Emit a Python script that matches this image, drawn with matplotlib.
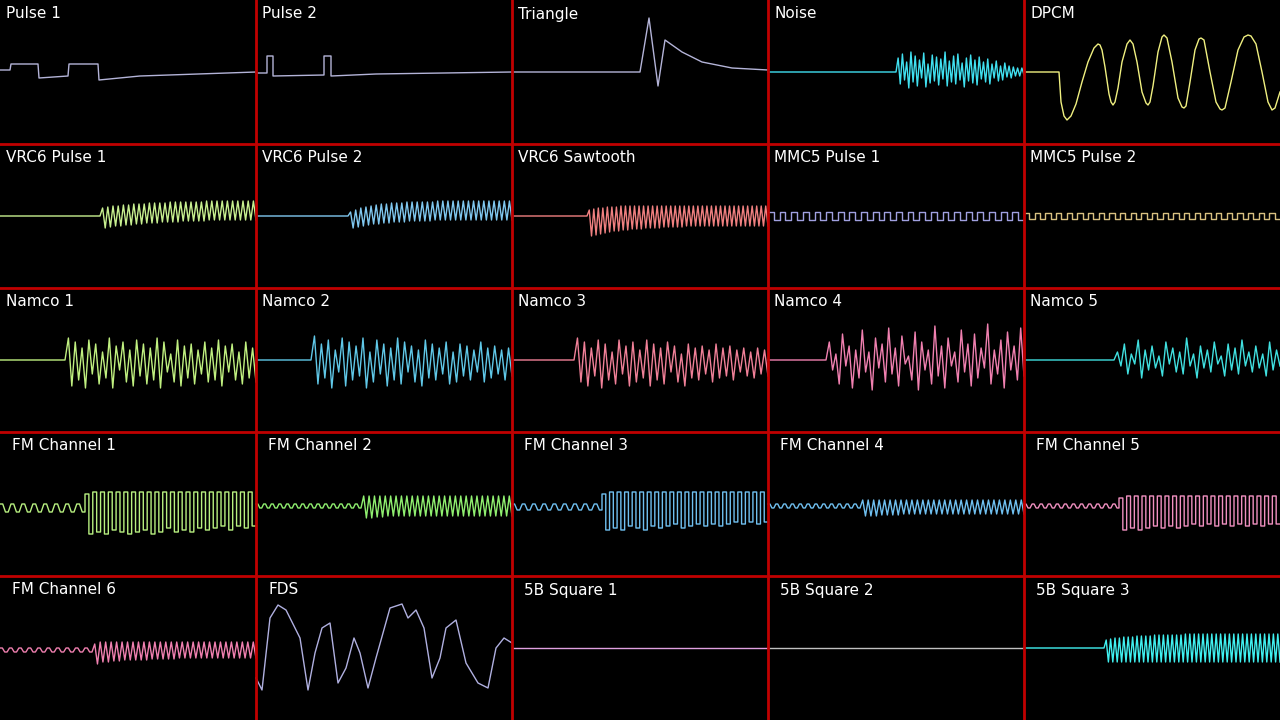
import numpy as np
import matplotlib
matplotlib.use("Agg")
import matplotlib.pyplot as plt

# panel size in pixels, 5 x 5 grid
PW, PH = 256, 144

titles = [
    "Pulse 1", "Pulse 2", "Triangle", "Noise", "DPCM",
    "VRC6 Pulse 1", "VRC6 Pulse 2", "VRC6 Sawtooth", "MMC5 Pulse 1", "MMC5 Pulse 2",
    "Namco 1", "Namco 2", "Namco 3", "Namco 4", "Namco 5",
    "FM Channel 1", "FM Channel 2", "FM Channel 3", "FM Channel 4", "FM Channel 5",
    "FM Channel 6", "FDS", "5B Square 1", "5B Square 2", "5B Square 3",
]
colors = [
    "#b4b4d8", "#b4b4d8", "#b4b4d8", "#40e0f0", "#f0f080",
    "#c8f090", "#80c8f0", "#f08080", "#a0a0e0", "#d8c080",
    "#c0f080", "#60c8e8", "#f08098", "#f080b0", "#40e0e0",
    "#b8f080", "#90f070", "#70c0f0", "#70c0f0", "#f090c0",
    "#f080b0", "#b0b0e0", "#e0a0e0", "#c0c0c0", "#40f0f0",
]

# explicit waveforms: x in panel pixels, y offset from panel centre (up = +)
pulse1_x = [0, 10, 11, 38, 39, 68, 69, 98, 99, 140, 256]
pulse1_y = [2, 2, 8, 8, -6, -4, 8, 8, -8, -4, 0]
pulse2_x = [0, 11, 11, 17, 17, 68, 68, 75, 75, 120, 256]
pulse2_y = [-1, -1, 16, 16, -4, -3, 16, 16, -4, -2, 0]
tri_x = [0, 128, 137, 146, 153, 170, 190, 220, 256]
tri_y = [0, 0, 54, -14, 32, 20, 10, 4, 2]
dpcm_x = [0, 35, 37, 40, 43, 47, 52, 58, 64, 70, 74, 76, 78, 81, 85, 87, 89, 91, 94, 98, 103, 106, 109, 113, 118, 122, 124, 126,
          129, 134, 138, 140, 143, 148, 154, 158, 160, 162, 166, 171, 175, 177, 180, 186, 192, 196, 198, 201, 207, 214, 220, 224,
          227, 232, 238, 244, 248, 251, 256]
dpcm_y = [0, 0, -30, -44, -48, -44, -32, -10, 10, 24, 28, 27, 22, 5, -22, -30, -33, -30, -16, 10, 28, 32, 28, 10, -20, -31, -33,
          -30, -14, 20, 35, 37, 34, 10, -26, -35, -36, -34, -10, 22, 33, 34, 32, 0, -30, -37, -38, -36, -10, 22, 35, 37, 36, 28, 0,
          -30, -38, -36, -20]
fds_x = [0, 6, 14, 22, 30, 44, 52, 59, 66, 74, 82, 90, 98, 104, 112, 120, 134, 146, 152, 160, 168, 176, 184, 190, 200, 210, 222, 232, 240, 248, 256]
fds_y = [-30, -42, 30, 43, 38, 10, -42, -5, 20, 25, -35, -20, 10, -5, -40, -10, 40, 44, 30, 38, 20, -30, -10, 20, 28, -15, -35, -40, 0, 10, 5]

# dense sections: flat lead-in up to start x, then alternating highs/lows
noise_start = 128
noise_hi = [14, 18, 10, 20, 16, 12, 19, 8, 17, 15, 13, 20, 11, 16, 18, 9, 14, 17, 12, 15, 10, 13, 8, 11, 6, 9, 6, 5, 4, 4]
noise_lo = [-12, -8, -16, -10, -14, -6, -15, -11, -9, -13, -7, -14, -10, -12, -8, -15, -9, -11, -13, -7, -10, -12, -6, -9, -8, -5, -6, -4, -4, -3]
vrc1_start = 100
vrc1_hi = [8, 9, 10, 10, 11, 11, 12, 12, 12, 13, 13, 13, 13, 14, 14, 14, 14, 14, 14, 14, 15, 15, 15, 15, 15, 15, 15, 15, 15, 15]
vrc1_lo = [-12, -11, -10, -10, -9, -9, -8, -8, -7, -7, -7, -6, -6, -6, -6, -5, -5, -5, -5, -5, -4, -4, -4, -4, -4, -4, -4, -4, -4, -4]
vrc2_start = 92
vrc2_hi = [4, 6, 8, 9, 10, 11, 12, 12, 13, 13, 13, 14, 14, 14, 14, 14, 14, 15, 15, 15, 15, 15, 15, 15, 15, 15, 15, 15, 15, 15, 15, 15]
vrc2_lo = [-12, -11, -10, -9, -8, -8, -7, -7, -6, -6, -6, -5, -5, -5, -5, -5, -4, -4, -4, -4, -4, -4, -4, -4, -4, -4, -4, -4, -4, -4, -4, -4]
saw_start = 75
saw_hi = [6, 7, 8, 8, 9, 9, 9, 10, 10, 10, 10, 10, 10, 10, 10, 10, 10, 10, 10, 10, 10, 10, 10, 10, 10, 10, 10, 10, 10, 10, 10, 10, 10, 10, 10, 10, 10, 10, 10, 10]
saw_lo = [-20, -19, -18, -17, -16, -15, -15, -14, -14, -13, -13, -13, -12, -12, -12, -12, -11, -11, -11, -11, -11, -10, -10, -10, -10, -10, -10, -10, -10, -10, -10, -10, -10, -10, -10, -10, -10, -10, -10, -10]
mmc1_start = 0
mmc1_hi = [4] * 22
mmc1_lo = [-4] * 22
mmc2_start = 0
mmc2_hi = [3] * 24
mmc2_lo = [-3] * 24
nam1_start = 65
nam1_hi = [22, 18, 12, 20, 16, 8, 22, 14, 18, 10, 20, 16, 12, 22, 18, 6, 20, 14, 16, 10, 18, 12, 20, 14, 16, 8, 18, 12]
nam1_lo = [-26, -20, -28, -14, -24, -18, -28, -10, -22, -26, -16, -24, -20, -28, -12, -22, -26, -18, -24, -14, -22, -20, -26, -12, -20, -24, -18, -22]
nam2_start = 55
nam2_hi = [24, 16, 20, 10, 22, 18, 14, 22, 8, 20, 16, 12, 22, 18, 14, 10, 20, 16, 12, 18, 8, 16, 14, 10, 18, 12, 14, 10, 12]
nam2_lo = [-24, -18, -28, -12, -26, -20, -16, -28, -22, -14, -26, -20, -24, -12, -22, -26, -18, -20, -14, -24, -22, -16, -20, -12, -22, -18, -14, -20, -16]
nam3_start = 62
nam3_hi = [22, 18, 12, 20, 16, 8, 20, 14, 18, 10, 20, 16, 12, 18, 14, 6, 16, 12, 14, 10, 16, 12, 14, 10, 12, 8, 12, 10]
nam3_lo = [-22, -26, -16, -28, -20, -24, -14, -26, -22, -18, -26, -20, -24, -12, -22, -26, -18, -20, -14, -22, -18, -16, -20, -12, -16, -18, -14, -16]
nam4_start = 58
nam4_hi = [18, 6, 26, 14, 10, 30, 8, 22, 16, 32, 12, 24, 4, 28, 18, 10, 34, 14, 22, 8, 30, 16, 26, 12, 36, 10, 20, 28, 14, 32]
nam4_lo = [-10, -24, -6, -28, -18, -12, -30, -8, -22, -14, -26, -4, -20, -30, -10, -24, -16, -28, -6, -22, -12, -26, -18, -8, -24, -14, -28, -10, -20, -16]
nam5_start = 90
nam5_hi = [8, 16, 6, 20, 10, 14, 4, 18, 12, 8, 22, 6, 14, 10, 18, 4, 16, 12, 20, 8, 14, 6, 18, 10]
nam5_lo = [-6, -14, -4, -18, -10, -8, -16, -4, -12, -14, -6, -18, -8, -12, -4, -16, -10, -14, -6, -12, -8, -16, -10, -6]
fm1_start = 85
fm1_small = [0, -8] * 8
fm1_hi = [10, 12, 12, 12, 12, 12, 12, 12, 12, 12, 12, 12, 12, 12, 12, 12, 12, 12, 12, 12, 12, 12]
fm1_lo = [-30, -28, -30, -26, -28, -30, -28, -26, -30, -28, -24, -28, -26, -28, -24, -26, -24, -22, -26, -22, -24, -22]
fm2_start = 105
fm2_small = [0, -4] * 14
fm2_hi = [8] * 28
fm2_lo = [-14, -14, -13, -13, -12, -12, -12, -12, -12, -12, -12, -12, -12, -12, -12, -12, -12, -12, -12, -12, -12, -12, -12, -12, -12, -12, -12, -12]
fm3_start = 90
fm3_small = [0, -6] * 9
fm3_hi = [10, 12, 12, 12, 12, 12, 12, 12, 12, 12, 12, 12, 12, 12, 12, 12, 12, 12, 12, 12, 12, 12]
fm3_lo = [-26, -24, -26, -22, -24, -26, -22, -24, -22, -20, -24, -22, -20, -22, -20, -22, -20, -18, -20, -18, -20, -18]
fm4_start = 92
fm4_small = [0, -4] * 12
fm4_hi = [4] * 30
fm4_lo = [-12, -12, -12, -11, -11, -11, -11, -10, -10, -10, -10, -10, -10, -10, -10, -10, -10, -10, -10, -10, -10, -10, -10, -10, -10, -10, -10, -10, -10, -10]
fm5_start = 95
fm5_small = [0, -4] * 12
fm5_hi = [6, 8, 8, 8, 8, 8, 8, 8, 8, 8, 8, 8, 8, 8, 8, 8, 8, 8, 8, 8, 8]
fm5_lo = [-26, -24, -26, -24, -22, -24, -22, -24, -22, -20, -22, -20, -22, -20, -22, -20, -22, -20, -22, -20, -20]
fm6_start = 92
fm6_small = [0, -4] * 10
fm6_hi = [4, 6, 6, 6, 6, 6, 6, 6, 6, 6, 6, 6, 6, 6, 6, 6, 6, 6, 6, 6, 6, 6, 6, 6, 6, 6, 6, 6, 6, 6]
fm6_lo = [-16, -14, -14, -13, -13, -12, -12, -12, -12, -12, -11, -11, -11, -11, -11, -10, -10, -10, -10, -10, -10, -10, -10, -10, -10, -10, -10, -10, -10, -10]
b3_start = 80
b3_hi = [8, 9, 10, 10, 11, 11, 11, 12, 12, 12, 12, 13, 13, 13, 13, 13, 13, 13, 14, 14, 14, 14, 14, 14, 14, 14, 14, 14, 14, 14, 14, 14, 14, 14, 14, 14, 14, 14, 14, 14]
b3_lo = [-14] * 40


def dense(start, hi, lo, small=None, square=False):
    xs, ys = [], []
    if small:
        sx = np.linspace(0, start, len(small) * 2)
        for i, v in enumerate(small):
            xs += [sx[2 * i], sx[2 * i + 1]]
            ys += [v, v]
    else:
        xs += [0, start]
        ys += [0, 0]
    n = len(hi)
    dx = np.linspace(start, PW, 2 * n + 1)
    for i in range(n):
        if square:
            xs += [dx[2 * i], dx[2 * i + 1], dx[2 * i + 1], dx[2 * i + 2]]
            ys += [hi[i], hi[i], lo[i], lo[i]]
        else:
            xs += [dx[2 * i + 1], dx[2 * i + 2]]
            ys += [hi[i], lo[i]]
    return xs, ys


waves = [
    (pulse1_x, pulse1_y), (pulse2_x, pulse2_y), (tri_x, tri_y),
    dense(noise_start, noise_hi, noise_lo), (dpcm_x, dpcm_y),
    dense(vrc1_start, vrc1_hi, vrc1_lo), dense(vrc2_start, vrc2_hi, vrc2_lo),
    dense(saw_start, saw_hi, saw_lo),
    dense(mmc1_start, mmc1_hi, mmc1_lo, square=True), dense(mmc2_start, mmc2_hi, mmc2_lo, square=True),
    dense(nam1_start, nam1_hi, nam1_lo), dense(nam2_start, nam2_hi, nam2_lo),
    dense(nam3_start, nam3_hi, nam3_lo), dense(nam4_start, nam4_hi, nam4_lo),
    dense(nam5_start, nam5_hi, nam5_lo),
    dense(fm1_start, fm1_hi, fm1_lo, fm1_small, square=True),
    dense(fm2_start, fm2_hi, fm2_lo, fm2_small),
    dense(fm3_start, fm3_hi, fm3_lo, fm3_small, square=True),
    dense(fm4_start, fm4_hi, fm4_lo, fm4_small),
    dense(fm5_start, fm5_hi, fm5_lo, fm5_small, square=True),
    dense(fm6_start, fm6_hi, fm6_lo, fm6_small),
    (fds_x, fds_y),
    ([0, 256], [0, 0]), ([0, 256], [0, 0]),
    dense(b3_start, b3_hi, b3_lo),
]

fig = plt.figure(figsize=(12.8, 7.2), dpi=100, facecolor="black")
ax = fig.add_axes([0, 0, 1, 1])
ax.set_facecolor("black")
ax.set_xlim(0, 1280)
ax.set_ylim(720, 0)
ax.axis("off")

for i, (wx, wy) in enumerate(waves):
    r, c = divmod(i, 5)
    ox, cy = c * PW, r * PH + PH / 2
    ax.plot(np.array(wx) + ox, cy - np.array(wy), color=colors[i], lw=1.0, clip_on=True)
    ax.text(ox + (12 if r >= 3 else 6), r * PH + 14, titles[i], color="white",
            fontsize=11, va="center", ha="left")

for k in range(1, 5):
    ax.axvline(k * PW, color="#c00000", lw=2)
    ax.axhline(k * PH, color="#c00000", lw=2)

fig.savefig("out.png", dpi=100, facecolor="black")
